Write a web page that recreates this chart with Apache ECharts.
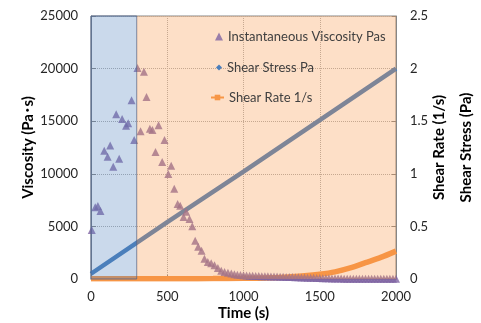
<!DOCTYPE html>
<html><head><meta charset="utf-8">
<script src="https://cdn.jsdelivr.net/npm/echarts@6/dist/echarts.min.js"></script>
<style>html,body{margin:0;padding:0;background:#fff}#c{width:481px;height:323px}</style>
</head><body><div id="c"></div>
<script>
// Instantaneous viscosity (Pa·s) vs time (s)
const viscTime = [5,28,45,62,87,109,126,146,165,185,204,230,244,266,283,305,325,347,364,386,403,423,443,467,482,507,526,546,568,585,607,624,646,664,683,703,725,744,766,788,810,832,854,876,898,920,940,960,980,1000,1020,1040,1060,1080,1100,1120,1140,1160,1180,1200,1220,1240,1260,1280,1300,1320,1340,1360,1380,1400,1420,1440,1460,1480,1500,1520,1540,1560,1580,1600,1620,1640,1660,1680,1700,1720,1740,1760,1780,1800,1820,1840,1860,1880,1900,1920,1940,1960,1980,2000];
const viscValue = [4660,6810,6940,6460,12200,11630,12700,10680,15650,11440,15200,14560,14800,17000,13210,20050,14050,19700,17300,14290,14160,12070,14610,11120,13210,9980,10770,8580,7130,6970,5900,6400,5700,5020,3640,3070,2690,1930,1620,1490,1300,1050,790,670,600,520,460,410,380,350,330,310,300,290,280,270,260,250,245,240,230,220,210,200,190,180,170,160,150,140,130,120,110,100,90,80,70,60,55,50,45,40,35,30,28,26,25,24,23,22,21,20,19,18,17,16,16,15,15,15];
// Shear stress (Pa) vs time (s)
const stressTime = [0,500,1000,1500,2000];
const stressValue = [0.05,0.54,1.02,1.51,2.0];
// Shear rate (1/s) vs time (s)
const rateTime = [0,200,400,600,800,1000,1100,1200,1300,1400,1500,1600,1700,1800,1900,2000];
const rateValue = [0.002,0.002,0.003,0.003,0.004,0.006,0.008,0.012,0.02,0.03,0.045,0.068,0.105,0.155,0.205,0.265];
// Shaded time regions
const regionStart = [0,300];
const regionEnd = [300,2000];
const regionColor = ['rgba(79,129,189,0.3)','rgba(247,150,70,0.3)'];
const legendNames = ['Instantaneous Viscosity Pas','Shear Stress Pa','Shear Rate 1/s'];

const F = 'Lato, "Noto Sans CJK JP", sans-serif';
const chart = echarts.init(document.getElementById('c'), null, {renderer:'canvas'});
const zip = (a,b)=>a.map((v,i)=>[v,b[i]]);
const plain = v => String(v);
const legendText = {fontFamily:F,fontSize:13,color:'#404040'};
chart.setOption({
  animation:false,
  textStyle:{fontFamily:F},
  grid:{left:91,right:85,top:16,bottom:44,outerBoundsMode:'none',containLabel:false,
        show:true,borderColor:'#868686',borderWidth:1,backgroundColor:'transparent'},
  legend:[
    {left:215,top:30,padding:0,itemWidth:8,itemHeight:8,textStyle:legendText,z:20,
     data:[{name:legendNames[0],icon:'triangle'}]},
    {left:216,top:61,padding:0,itemWidth:6,itemHeight:6,textStyle:legendText,z:20,
     data:[{name:legendNames[1],icon:'diamond'}]},
    {left:210,top:91,padding:0,itemWidth:13,itemHeight:7,textStyle:legendText,z:20,
     data:[{name:legendNames[2]}]}
  ],
  xAxis:{
    type:'value',min:0,max:2000,interval:500,
    name:'Time (s)',nameLocation:'middle',nameGap:27,nameMoveOverlap:false,
    nameTextStyle:{fontFamily:F,fontSize:15,fontWeight:'bold',color:'#000'},
    axisLine:{show:true,lineStyle:{color:'#868686'}},
    axisTick:{show:true,inside:true,length:4,lineStyle:{color:'#868686'}},
    axisLabel:{fontFamily:F,fontSize:13,color:'#262626',margin:11,formatter:plain},
    splitLine:{show:true,lineStyle:{type:'dotted',color:'#b0b0b0'}}
  },
  yAxis:[{
    type:'value',min:0,max:25000,interval:5000,
    name:'Viscosity (Pa･s)',nameLocation:'middle',nameGap:55,nameRotate:90,nameMoveOverlap:false,
    nameTextStyle:{fontFamily:F,fontSize:15,fontWeight:'bold',color:'#000'},
    axisLine:{show:true,lineStyle:{color:'#868686'}},
    axisTick:{show:true,inside:true,length:5,lineStyle:{color:'#868686'}},
    axisLabel:{fontFamily:F,fontSize:13,color:'#262626',margin:13,formatter:plain},
    splitLine:{show:true,lineStyle:{type:'dotted',color:'#b0b0b0'}}
  },{
    type:'value',min:0,max:2.5,interval:0.5,position:'right',
    name:'Shear Rate (1/s)\nShear Stress (Pa)',nameLocation:'middle',nameGap:30,nameRotate:90,nameMoveOverlap:false,
    nameTextStyle:{fontFamily:F,fontSize:15,fontWeight:'bold',color:'#000',lineHeight:27},
    axisLine:{show:true,lineStyle:{color:'#868686'}},
    axisTick:{show:true,inside:true,length:4,lineStyle:{color:'#868686'}},
    axisLabel:{fontFamily:F,fontSize:13,color:'#262626',margin:14,formatter:plain},
    splitLine:{show:false}
  }],
  series:[
    {name:legendNames[1],type:'line',yAxisIndex:1,z:2,data:zip(stressTime,stressValue),
     symbol:'diamond',showSymbol:false,symbolSize:6,lineStyle:{width:4.5,color:'#4a7ebb'},itemStyle:{color:'#4a7ebb'}},
    {name:legendNames[2],type:'line',yAxisIndex:1,z:3,data:zip(rateTime,rateValue),
     symbol:'rect',showSymbol:false,symbolSize:6,smooth:0.3,lineStyle:{width:5.5,color:'#f79646'},itemStyle:{color:'#f79646'}},
    {name:legendNames[0],type:'scatter',yAxisIndex:0,z:4,data:zip(viscTime,viscValue),
     symbol:'triangle',symbolSize:8,itemStyle:{color:'#8064a2'}},
    {name:'regions',type:'custom',yAxisIndex:0,z:5,silent:true,
     data:zip(regionStart,regionEnd),encode:{x:[0,1]},
     renderItem:function(params,api){
       const cs=params.coordSys;
       const x0=api.coord([api.value(0),0])[0], x1=api.coord([api.value(1),0])[0];
       const i=params.dataIndex;
       return {type:'rect',shape:{x:x0,y:cs.y,width:x1-x0,height:cs.height},
         style:{fill:regionColor[i],stroke:i===0?'rgba(70,95,140,0.75)':null,lineWidth:1}};
     }}
  ]
});
</script></body></html>
